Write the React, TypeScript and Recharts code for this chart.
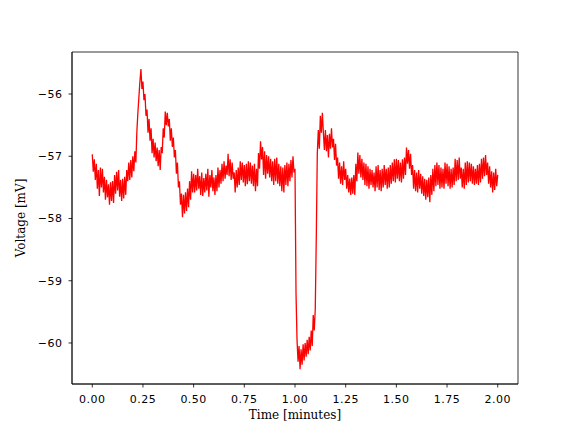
import React from 'react';
import { LineChart, Line, XAxis, YAxis, ReferenceArea } from 'recharts';

// sampling grid of the recording (minutes)
const tStart = 0;
const tStep = 0.005;

// membrane voltage (mV), one row per 0.1 min
const voltage = [
    -56.97, -57.25, -57.05, -57.38, -57.12, -57.52, -57.22, -57.64, -57.18, -57.5, -57.2, -57.58, -57.33, -57.7, -57.38, -57.66, -57.45, -57.78, -57.42, -57.72,
    -57.4, -57.75, -57.3, -57.6, -57.25, -57.55, -57.22, -57.65, -57.38, -57.72, -57.36, -57.68, -57.33, -57.62, -57.22, -57.4, -57.1, -57.38, -57.06, -57.34,
    -57.0, -57.24, -56.92, -57.1, -56.6, -56.3, -56.05, -55.8, -55.6, -55.92, -55.8, -56.1, -56.0, -56.35, -56.25, -56.62, -56.4, -56.75, -56.55, -56.95,
    -56.72, -57.02, -56.78, -57.08, -56.86, -57.16, -56.9, -57.22, -56.85, -56.95, -56.55, -56.7, -56.28, -56.5, -56.3, -56.52, -56.4, -56.75, -56.55, -56.85,
    -56.7, -57.02, -56.9, -57.28, -57.1, -57.5, -57.4, -57.78, -57.6, -57.98, -57.62, -57.92, -57.58, -57.88, -57.52, -57.82, -57.4, -57.7, -57.24, -57.58,
    -57.28, -57.58, -57.3, -57.55, -57.2, -57.52, -57.32, -57.62, -57.26, -57.64, -57.35, -57.58, -57.28, -57.55, -57.2, -57.65, -57.3, -57.5, -57.22, -57.56,
    -57.34, -57.62, -57.3, -57.56, -57.18, -57.5, -57.22, -57.44, -57.12, -57.4, -57.08, -57.36, -57.15, -57.3, -56.96, -57.32, -57.05, -57.38, -57.1, -57.36,
    -57.26, -57.58, -57.22, -57.5, -57.18, -57.46, -57.08, -57.38, -57.1, -57.42, -57.14, -57.48, -57.12, -57.45, -57.08, -57.4, -57.1, -57.44, -57.15, -57.48,
    -57.12, -57.56, -57.2, -57.48, -56.95, -57.2, -56.76, -57.05, -56.85, -57.3, -56.92, -57.36, -56.98, -57.28, -57.0, -57.34, -57.04, -57.4, -57.08, -57.46,
    -57.04, -57.4, -57.02, -57.44, -57.12, -57.48, -57.16, -57.56, -57.18, -57.58, -57.14, -57.46, -57.1, -57.48, -57.12, -57.4, -57.06, -57.34, -57.0, -57.26,
    -57.2, -59.2, -59.95, -60.3, -60.05, -60.42, -60.1, -60.35, -60.02, -60.28, -60.0, -60.22, -59.95, -60.18, -59.9, -60.12, -59.8, -60.05, -59.55, -59.8,
    -59.45, -58.3, -56.95, -56.58, -56.88, -56.35, -56.62, -56.3, -56.62, -56.9, -56.58, -56.92, -56.66, -57.02, -56.64, -56.88, -56.55, -56.86, -56.72, -57.06,
    -56.8, -57.15, -57.02, -57.36, -57.1, -57.44, -57.16, -57.46, -57.08, -57.38, -57.2, -57.52, -57.3, -57.58, -57.36, -57.62, -57.34, -57.6, -57.3, -57.62,
    -57.12, -57.4, -56.94, -57.28, -56.98, -57.34, -57.04, -57.38, -57.1, -57.46, -57.12, -57.48, -57.16, -57.52, -57.2, -57.46, -57.22, -57.5, -57.26, -57.56,
    -57.16, -57.5, -57.14, -57.54, -57.22, -57.56, -57.2, -57.5, -57.14, -57.46, -57.2, -57.52, -57.18, -57.5, -57.14, -57.44, -57.1, -57.4, -57.05, -57.42,
    -57.04, -57.36, -57.06, -57.4, -57.1, -57.42, -57.05, -57.36, -57.02, -57.3, -56.86, -57.12, -56.9, -57.2, -56.96, -57.3, -57.14, -57.52, -57.22, -57.56,
    -57.26, -57.58, -57.22, -57.52, -57.28, -57.6, -57.32, -57.64, -57.36, -57.7, -57.38, -57.66, -57.34, -57.74, -57.3, -57.62, -57.2, -57.56, -57.14, -57.48,
    -57.1, -57.46, -57.14, -57.52, -57.18, -57.5, -57.2, -57.52, -57.1, -57.44, -57.12, -57.48, -57.16, -57.52, -57.2, -57.5, -57.18, -57.46, -57.04, -57.4,
    -57.06, -57.38, -57.02, -57.36, -57.18, -57.5, -57.2, -57.52, -57.1, -57.46, -57.08, -57.42, -57.1, -57.4, -57.12, -57.44, -57.16, -57.46, -57.2, -57.44,
    -57.14, -57.46, -57.12, -57.42, -57.04, -57.36, -57.02, -57.32, -56.98, -57.3, -57.1, -57.44, -57.16, -57.5, -57.24, -57.58, -57.26, -57.54, -57.2, -57.48,
    -57.3,
];

const xTicks = [0, 0.25, 0.5, 0.75, 1.0, 1.25, 1.5, 1.75, 2.0];
const yTicks = [-60, -59, -58, -57, -56];
const xDomain = [-0.1, 2.1];
const yDomain = [-60.659, -55.325];

const data = voltage.map((v, i) => ({ t: +(tStart + i * tStep).toFixed(3), v }));

const tickStyle = { fill: '#000', fontSize: 11, fontFamily: 'DejaVu Sans', letterSpacing: 0.5 };
const labelFont = { fontSize: 12, fontFamily: 'DejaVu Serif', fill: '#000' };

const minus = (v: number) => (v < 0 ? '\u2212' + Math.abs(v) : String(v));

const XLabel = (props: any) => {
    const { viewBox } = props;
    return (
        <text x={viewBox.x + viewBox.width / 2} y={viewBox.y + 34.5} textAnchor="middle" {...labelFont}>
            Time [minutes]
        </text>
    );
};

const YLabel = (props: any) => {
    const { viewBox } = props;
    const cx = 25;
    const cy = viewBox.y + viewBox.height / 2;
    return (
        <text x={cx} y={cy} textAnchor="middle" transform={`rotate(-90, ${cx}, ${cy})`} {...labelFont}>
            Voltage [mV]
        </text>
    );
};

export default function App() {
    return (
        <div style={{ position: 'absolute', left: 0, top: 0, width: 576, height: 432, background: '#fff' }}>
            <LineChart width={576} height={432} data={data} margin={{ top: 52, right: 58, left: 0, bottom: 0 }}>
                <XAxis
                    dataKey="t"
                    type="number"
                    domain={xDomain}
                    ticks={xTicks}
                    tickFormatter={(d: number) => d.toFixed(2)}
                    height={48}
                    tickSize={3.5}
                    tickMargin={8}
                    tick={tickStyle}
                    axisLine={{ stroke: '#000', strokeWidth: 0.8 }}
                    tickLine={{ stroke: '#000', strokeWidth: 0.8 }}
                    label={<XLabel />}
                />
                <YAxis
                    dataKey="v"
                    type="number"
                    domain={yDomain}
                    ticks={yTicks}
                    tickFormatter={minus}
                    width={72}
                    tickSize={3.5}
                    tickMargin={6}
                    tick={tickStyle}
                    axisLine={{ stroke: '#000', strokeWidth: 0.8 }}
                    tickLine={{ stroke: '#000', strokeWidth: 0.8 }}
                    label={<YLabel />}
                />
                <Line
                    isAnimationActive={false}
                    type="linear"
                    dataKey="v"
                    dot={false}
                    stroke="#ff0000"
                    strokeWidth={1.3}
                    strokeLinejoin="miter"
                />
                <ReferenceArea
                    x1={xDomain[0]}
                    x2={xDomain[1]}
                    y1={yDomain[0]}
                    y2={yDomain[1]}
                    fill="none"
                    stroke="#000"
                    strokeWidth={0.8}
                />
            </LineChart>
        </div>
    );
}
